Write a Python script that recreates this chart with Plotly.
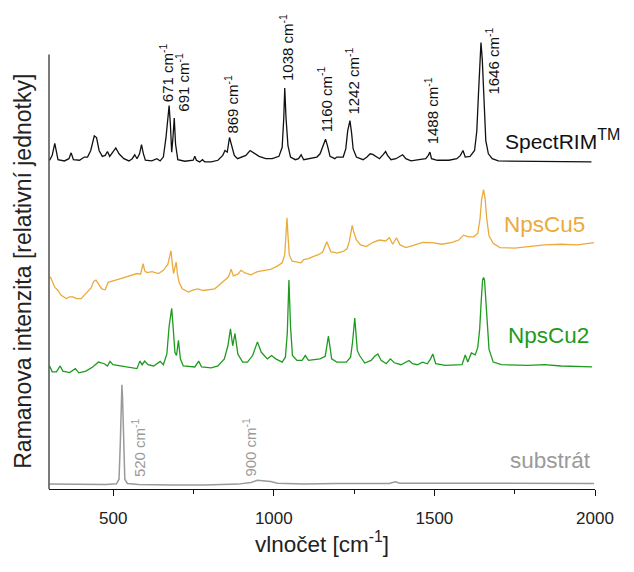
import plotly.graph_objects as go

# ---------------- data ----------------
spectrim_wn = [302, 310, 318, 323, 328, 348, 362, 369, 376, 395, 410, 420, 430, 441, 448, 456, 466, 475, 482, 489,
               499, 508, 518, 533, 549, 559, 567, 574, 582, 588, 594, 600, 620, 636, 646, 656, 664, 670, 674, 678,
               682, 686, 690, 694, 701, 723, 749, 754, 759, 769, 778, 785, 805, 826, 841, 848, 855, 862, 869, 877,
               887, 903, 913, 926, 939, 954, 975, 995, 1016, 1026, 1031, 1034, 1038, 1044, 1052, 1067, 1077, 1085,
               1093, 1113, 1134, 1144, 1152, 1161, 1167, 1175, 1190, 1196, 1216, 1224, 1230, 1237, 1242, 1247, 1257,
               1278, 1290, 1300, 1308, 1317, 1329, 1341, 1348, 1354, 1365, 1380, 1393, 1401, 1411, 1427, 1452, 1473,
               1481, 1486, 1491, 1509, 1545, 1570, 1581, 1589, 1596, 1611, 1625, 1632, 1637, 1641, 1645, 1649, 1654,
               1660, 1668, 1680, 1699, 1791, 1894, 1989]
spectrim_int = [1.7, 6.7, 19, 11.7, 2.3, 1, 3.3, 9.3, 2.3, 1.7, 5, 5, 11.7, 26.7, 25, 11.7, 5.7, 6.7, 10.7, 5.7,
                10, 14.3, 8.3, 3.3, 1, 3.3, 7.3, 3.3, 8.3, 17.7, 8.3, 1.7, 1, 3.3, 1, 5, 24.3, 45, 57.7, 38.3,
                10, 25, 45, 18.3, 2.3, 0.7, 1.7, 5.7, 1.7, 0, 2.3, 0, 0, 1.7, 6.7, 11.7, 10, 25, 16.7, 6.7,
                3.3, 5, 6.7, 11.7, 9, 5.7, 3.3, 3.3, 5.7, 15, 45, 75.7, 45, 16.7, 5, 2.3, 3.3, 7.3,
                2.3, 3.3, 5, 8.3, 15, 23.3, 16.7, 5.7, 3.3, 5, 5, 13.3, 31.7, 42.3, 30, 13.3, 5,
                2.3, 5, 8.3, 7.7, 5.7, 3.3, 7.7, 10.7, 6.7, 2.3, 3.3, 5.7, 7.3, 3.3, 1, 2.3, 3.3,
                6.7, 10, 3.3, 1.7, 1.7, 3.3, 6.7, 11.7, 5, 5.7, 11.7, 31.7, 68.3, 105, 122.3, 105, 68.3,
                21.7, 8.3, 3.3, 1, 0.7, 0.7, 0]

npscu5_wn = [302, 305, 310, 318, 328, 338, 354, 364, 374, 386, 400, 410, 420, 431, 439, 446, 454, 464, 475, 484,
             518, 559, 574, 585, 590, 593, 598, 605, 621, 641, 656, 670, 677, 680, 684, 688, 692, 696, 700, 705,
             715, 734, 749, 764, 780, 795, 816, 831, 846, 859, 867, 874, 888, 898, 910, 929, 949, 990, 1011, 1026,
             1034, 1037, 1041, 1044, 1048, 1057, 1072, 1085, 1093, 1108, 1124, 1139, 1152, 1160, 1165, 1171, 1178,
             1188, 1196, 1216, 1228, 1235, 1240, 1244, 1249, 1257, 1270, 1288, 1309, 1329, 1348, 1360, 1370, 1382,
             1393, 1411, 1432, 1463, 1493, 1524, 1555, 1576, 1591, 1606, 1622, 1635, 1642, 1647, 1653, 1658, 1663,
             1670, 1683, 1704, 1750, 1791, 1843, 1894, 1945, 1997]
npscu5_int = [21.7, 21.7, 17.7, 11.7, 8.3, 3.3, 0, 1.7, 1.7, 0, 0, 3.3, 6.7, 11, 17.7, 19, 15, 10, 9, 16.7,
              20, 24, 25.7, 25, 31.7, 35.7, 28.3, 26.7, 27.7, 25.7, 29, 35, 45, 49, 35, 25.7, 31.7, 37.3, 25, 16.7,
              10, 6.7, 9, 10, 8.3, 9, 10, 14.3, 18.3, 22.3, 30, 23.3, 25, 29, 26.3, 24.3, 27.7, 30, 33.3, 36.7,
              45, 65, 82.7, 65, 45, 38.3, 37.7, 36.7, 40, 41, 43.3, 45, 47.7, 53.3, 58.3, 53.3, 47.7,
              47.7, 46.7, 48.3, 51, 58.3, 70, 75, 68.3, 60, 55, 53.3, 57.7, 60, 59, 62.3, 55.7, 62.3,
              55, 52.3, 54.3, 57.7, 57.3, 55.7, 57.7, 60, 65, 63.3, 63.3, 66.7, 81.7, 101.7, 111.7, 101.7, 81.7,
              64.3, 56.7, 52.3, 51.7, 53.3, 55, 55.7, 55, 57.3]

npscu2_wn = [302, 310, 323, 335, 343, 364, 382, 393, 415, 436, 454, 472, 482, 490, 499, 538, 574, 583, 590, 598,
             608, 626, 646, 656, 667, 674, 682, 687, 692, 697, 703, 709, 718, 754, 766, 775, 805, 826, 834, 846,
             857, 865, 872, 879, 888, 903, 918, 934, 949, 961, 980, 993, 1006, 1026, 1036, 1042, 1047, 1052, 1058,
             1072, 1088, 1098, 1108, 1144, 1160, 1165, 1170, 1175, 1180, 1196, 1226, 1239, 1245, 1252, 1257, 1260,
             1267, 1283, 1303, 1314, 1324, 1334, 1350, 1363, 1375, 1396, 1421, 1432, 1447, 1463, 1478, 1488, 1495,
             1504, 1534, 1586, 1596, 1604, 1615, 1627, 1635, 1641, 1646, 1650, 1653, 1656, 1660, 1665, 1670, 1683,
             1709, 1791, 1843, 1894, 1991]
npscu2_int = [7, 1, 1, 7, 1.7, 0.3, 4.3, 0, 1.7, 6, 11, 9.3, 7, 11.7, 8.3, 6, 4.3, 12, 8.3, 12,
              8.3, 7, 11.7, 8.3, 19.3, 47.7, 66, 44.3, 21, 17.7, 33.3, 14.3, 7, 6, 12, 6, 5, 7, 10.3, 14.3,
              27.7, 45, 27.7, 40.3, 19.3, 11, 11, 17.7, 31.7, 21, 14.3, 17.7, 14.3, 11, 16, 41, 95, 47.7, 17.7,
              12.7, 12.7, 17.7, 12.7, 14.3, 17, 27.7, 37.7, 26, 14.3, 11, 11, 16, 31, 56, 31, 22.7,
              17.7, 10, 12.7, 17, 19.3, 12.7, 9.3, 14.3, 10.3, 8.3, 12.7, 9.3, 8.3, 11, 9.3, 14.3, 19.3,
              9.3, 7.7, 8.3, 18.3, 11, 20.3, 18.3, 26, 45, 75, 95, 97.7, 95, 75, 45, 24.3, 11,
              8.3, 7.7, 8.3, 7, 6]

substrat_wn = [302, 374, 477, 510, 518, 522, 525, 527, 529, 532, 536, 544, 579, 682, 785, 888, 929, 949, 970, 990,
               1011, 1093, 1196, 1360, 1370, 1380, 1391, 1586, 1997]
substrat_int = [1, 0.7, 0.7, 1.3, 6, 42.7, 89.3, 102.7, 89.3, 42.7, 6, 1.7, 0.7, 0, 0, 1, 2.7, 5, 4.3, 3.7,
                2, 1, 1.7, 1.7, 2.7, 3.3, 2, 1.7, 1.7]

# vertical stacking offsets of the spectra
offsets = {"SpectRIM": 335, "NpsCu5": 195, "NpsCu2": 119, "substrat": 4}

# peak labels: (text wavenumber, label centre x, label centre y)
spectrim_peaks = [671, 691, 869, 1038, 1160, 1242, 1488, 1646]
spectrim_lab_x = [666, 715, 869, 1039, 1159, 1244, 1490, 1680]
spectrim_lab_y = [426.5, 416.5, 394.5, 452, 399, 417.5, 387, 438]
substrat_peaks = [520, 900]
substrat_lab_x = [579, 923]
substrat_lab_y = [42.5, 42.5]

x_ticks = [500, 1000, 1500, 2000]
Y_AXIS_TOP = 445      # the drawn y-axis line stops here; the tallest peak rises above it

# ---------------- figure ----------------
FONT = "Liberation Sans, Arial, Helvetica, sans-serif"
C_BLACK = "#111111"
C_ORANGE = "#EBAA3C"
C_GREEN = "#1E9B1E"
C_GRAY = "#9A9A9A"

fig = go.Figure()
series = [
    (spectrim_wn, spectrim_int, offsets["SpectRIM"], C_BLACK, 1.3),
    (npscu5_wn, npscu5_int, offsets["NpsCu5"], C_ORANGE, 1.3),
    (npscu2_wn, npscu2_int, offsets["NpsCu2"], C_GREEN, 1.3),
    (substrat_wn, substrat_int, offsets["substrat"], C_GRAY, 1.5),
]
for wn, inten, off, col, lw in series:
    fig.add_trace(go.Scatter(x=wn, y=[v + off for v in inten], mode="lines",
                             line=dict(color=col, width=lw), hoverinfo="skip", showlegend=False))

ann = []
for p, lx, ly in zip(spectrim_peaks, spectrim_lab_x, spectrim_lab_y):
    ann.append(dict(x=lx, y=ly, xref="x", yref="y", text=f"{p} cm<sup>-1</sup>", textangle=-90,
                    showarrow=False, xanchor="center", yanchor="middle",
                    font=dict(family=FONT, size=15, color=C_BLACK)))
for p, lx, ly in zip(substrat_peaks, substrat_lab_x, substrat_lab_y):
    ann.append(dict(x=lx, y=ly, xref="x", yref="y", text=f"{p} cm<sup>-1</sup>", textangle=-90,
                    showarrow=False, xanchor="center", yanchor="middle",
                    font=dict(family=FONT, size=15, color=C_GRAY)))

ann.append(dict(x=1713, y=358, xref="x", yref="y",
                text="SpectRIM<sup><span style='font-size:16px'>TM</span></sup>", showarrow=False,
                xanchor="left", yanchor="middle", font=dict(family=FONT, size=21, color=C_BLACK)))
names = [("NpsCu5", 1842, 271, C_ORANGE),
         ("NpsCu2", 1854, 157.5, C_GREEN),
         ("substrát", 1861, 29, C_GRAY)]
for t, x, y, c in names:
    ann.append(dict(x=x, y=y, xref="x", yref="y", text=t, showarrow=False,
                    xanchor="center", yanchor="middle", font=dict(family=FONT, size=22.5, color=c)))

# y-axis title, centred on the drawn y-axis line
ann.append(dict(x=0, y=Y_AXIS_TOP / 2, xref="paper", yref="y", xshift=-26,
                text="Ramanova intenzita [relativní jednotky]",
                textangle=-90, showarrow=False, xanchor="center", yanchor="middle",
                font=dict(family=FONT, size=23, color="#222222")))

# figure sized so that it fits the 634x572 window together with the page's 8px body margin
fig.update_layout(
    width=618, height=556,
    margin=dict(l=41, r=25, t=27, b=64),
    paper_bgcolor="white", plot_bgcolor="white",
    font=dict(family=FONT, color="#222222"),
    annotations=ann,
    shapes=[dict(type="line", xref="paper", yref="y", x0=0, x1=0, y0=0, y1=Y_AXIS_TOP,
                 line=dict(color="#333333", width=1.3))],
    xaxis=dict(range=[300, 2000], tickvals=x_ticks, ticks="outside", ticklen=6, tickwidth=1.3,
               tickcolor="#111111", showline=True, linecolor="#111111", linewidth=1.3,
               ticklabelstandoff=7,
               showgrid=False, zeroline=False, tickfont=dict(family=FONT, size=17, color="#222222"),
               minor=dict(ticks="outside", ticklen=4, tickwidth=1.3, tickcolor="#111111",
                          dtick=250, tick0=0, showgrid=False),
               title=dict(text="vlnočet [cm<sup>-1</sup>]", standoff=9,
                          font=dict(family=FONT, size=22.5, color="#222222"))),
    yaxis=dict(range=[0, 465], showticklabels=False, ticks="", showline=False,
               showgrid=False, zeroline=False),
)

fig.write_html("out.html")
